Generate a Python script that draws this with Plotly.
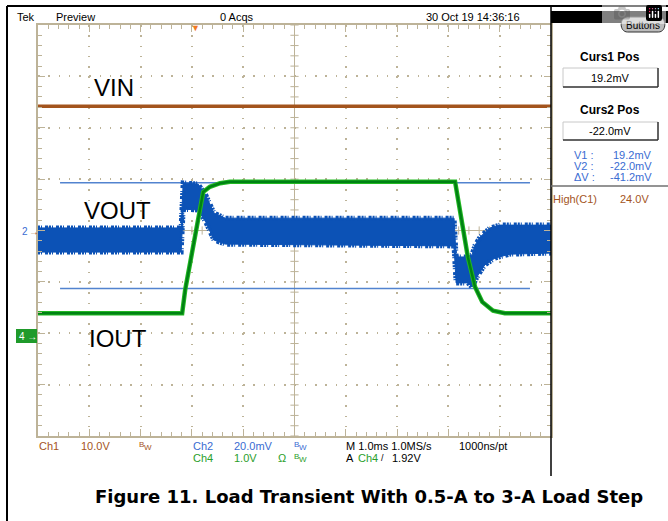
import plotly.graph_objects as go

# ---- scope settings ----
CH1_SCALE = 10.0    # V/div
CH1_POS = 0.02      # div
CH2_SCALE = 20.0    # mV/div
CH2_POS = -0.03     # div
CH4_SCALE = 1.0     # A/div (1.0V probe)
CH4_POS = -2.1      # div

# time in ms (M 1.0ms/div)
vin_t = [-5.0, 5.0]
vin_v = [24.0, 24.0]

# VOUT noise envelope, mV
vout_hi_t = [-5.0, -2.21, -2.17, -1.88, -1.73, -1.57, -1.35, 3.11, 3.15, 3.36, 3.46, 3.52, 3.62, 3.81, 4.01, 5.0]
vout_hi_mv = [1.6, 1.6, 19.1, 18.7, 14.4, 7.4, 5.4, 5.4, -9.7, -9.7, -8.9, -5.1, -1.9, 1.6, 2.7, 2.7]
vout_lo_t = [-5.0, -2.21, -2.17, -1.88, -1.73, -1.57, -1.35, 3.11, 3.15, 3.38, 3.46, 3.58, 3.71, 3.91, 4.20, 5.0]
vout_lo_mv = [-7.8, -7.8, 8.9, 8.6, 3.9, -3.1, -4.7, -5.4, -19.8, -19.8, -21.4, -16.7, -12.8, -10.1, -8.6, -8.2]

# IOUT, A
iout_t = [-5.0, -2.19, -2.13, -1.78, -1.65, -1.45, -1.26, 3.13, 3.38, 3.52, 3.66, 3.87, 4.10, 5.0]
iout_a = [0.49, 0.49, 0.95, 2.85, 2.95, 3.02, 3.05, 3.05, 1.58, 1.00, 0.71, 0.54, 0.49, 0.49]

# cursors
curs_t = [-4.57, 4.59]
curs1_mv = 19.2
curs2_mv = -22.0

TAN = "#bdb398"
BROWN = "#a3541d"
BLUE = "#0c52b6"
CURS = "#5283cf"
TXTBLUE = "#3a6cd2"
TXTGREEN = "#2a9e2a"
FONT = "Liberation Sans, Arial, sans-serif"
NARROW = "Liberation Sans Narrow, Arial Narrow, Liberation Sans, sans-serif"

L, R, T, B = 38, 551, 25, 436
W, H = 668, 521


def px(x, y):
    return (x - L) / (R - L), (B - y) / (B - T)


fig = go.Figure()

# cursor lines
for mv in (curs1_mv, curs2_mv):
    fig.add_trace(go.Scatter(x=curs_t, y=[CH2_POS + mv / CH2_SCALE] * 2, mode="lines",
                             line=dict(color=CURS, width=1.5), hoverinfo="skip"))

# VIN
fig.add_trace(go.Scatter(x=vin_t, y=[CH1_POS + v / CH1_SCALE for v in vin_v], mode="lines",
                         line=dict(color=BROWN, width=3.5)))

# VOUT band
hi = [CH2_POS + v / CH2_SCALE for v in vout_hi_mv]
lo = [CH2_POS + v / CH2_SCALE for v in vout_lo_mv]
fig.add_trace(go.Scatter(x=vout_hi_t + vout_lo_t[::-1], y=hi + lo[::-1], mode="lines",
                         fill="toself", fillcolor=BLUE, line=dict(color=BLUE, width=1)))
for xs, ys in ((vout_hi_t, hi), (vout_lo_t, lo)):
    fig.add_trace(go.Scatter(x=xs, y=ys, mode="lines",
                             line=dict(color=BLUE, width=5, dash="2px,1px,1px,3px,3px,1px")))

# IOUT
fig.add_trace(go.Scatter(x=iout_t, y=[CH4_POS + a / CH4_SCALE for a in iout_a], mode="lines",
                         line=dict(color="#22b922", width=4.5)))
fig.add_trace(go.Scatter(x=iout_t, y=[CH4_POS + a / CH4_SCALE for a in iout_a], mode="lines",
                         line=dict(color="#008214", width=2.5)))

# center line ticks of the graticule
for i in range(51):
    xv = -5 + i * 0.2
    fig.add_shape(type="line", x0=xv, x1=xv, y0=-0.08, y1=0.08, line=dict(color=TAN, width=1), layer="below")
for i in range(41):
    yv = -4 + i * 0.2
    fig.add_shape(type="line", x0=-0.08, x1=0.08, y0=yv, y1=yv, line=dict(color=TAN, width=1), layer="below")

axis_common = dict(showticklabels=False, showline=True, linecolor=TAN, linewidth=1.5, mirror="ticks",
                   ticks="inside", ticklen=7, tickcolor=TAN, tickwidth=1, showgrid=True, gridcolor=TAN,
                   gridwidth=1.5, zeroline=True, zerolinecolor=TAN, zerolinewidth=1, fixedrange=True,
                   minor=dict(dtick=0.2, ticks="inside", ticklen=4, tickcolor=TAN, showgrid=False))
fig.update_xaxes(range=[-5, 5], dtick=1, tick0=0, griddash="1.5px,8.78px", **axis_common)
fig.update_yaxes(range=[-4, 4], dtick=1, tick0=0, griddash="1.5px,8.76px", **axis_common)


def label(text, x, y, size=11, color="black", anchor="left", family=NARROW):
    xx, yy = px(x, y)
    fig.add_annotation(text=text, x=xx, y=yy, xref="paper", yref="paper", showarrow=False,
                       xanchor=anchor, yanchor="middle", font=dict(size=size, color=color, family=family),
                       borderpad=0)


def bw(x, y, color):
    # the little "Bw" bandwidth-limit sign
    label("B", x, y - 2, size=8, color=color)
    label("W", x + 5, y + 1, size=8, color=color)


def line(x0, y0, x1, y1, color="black", width=1.5):
    a, b = px(x0, y0)
    c, d = px(x1, y1)
    fig.add_shape(type="line", xref="paper", yref="paper", x0=a, y0=b, x1=c, y1=d,
                  line=dict(color=color, width=width))


def rect(x0, y0, x1, y1, fill, lw=0, lc=None):
    a, b = px(x0, y0)
    c, d = px(x1, y1)
    fig.add_shape(type="rect", xref="paper", yref="paper", x0=a, y0=b, x1=c, y1=d,
                  fillcolor=fill, line=dict(width=lw, color=lc or fill))


# outer frame
line(7, 6, 668, 6, width=2)
line(7, 6, 7, 521, width=2)
line(551, 6, 551, 476, width=1.5)

# trace labels
label("VIN", 93, 87, size=24, family=FONT)
label("VOUT", 83, 210, size=24, family=FONT)
label("IOUT", 88, 338, size=24, family=FONT)

# channel markers
label("2", 21, 232, size=10, color=TXTBLUE)
label("→", 28, 232, size=10, color=BROWN)
rect(16, 329, 37, 343, "#1f9a2a")
label("4 →", 18, 336, size=10, color="white")
label("▼", 195, 28, size=9, color="#f07a22", anchor="center")

# header
label("Tek", 16, 17)
label("Preview", 55, 17)
label("0 Acqs", 219, 17)
label("30 Oct 19 14:36:16", 425, 17)

# right panel
rect(551, 11, 668, 23, "black")
pa, pb = px(621, 17)
pc, pd = px(665, 32)
rx = (pc - pa) * 0.15
fig.add_shape(type="path", xref="paper", yref="paper",
              path=f"M {pa + rx},{pb} L {pc - rx},{pb} C {pc + rx * 0.3},{pb} {pc + rx * 0.3},{pd} {pc - rx},{pd} "
                   f"L {pa + rx},{pd} C {pa - rx * 0.3},{pd} {pa - rx * 0.3},{pb} {pa + rx},{pb} Z",
              fillcolor="#bcbcbc", line=dict(color="#303030", width=1))
label("Buttons", 643, 25, size=10, anchor="center")

label("<b>Curs1 Pos</b>", 610, 57, size=12, anchor="center", family=FONT)
label("<b>Curs2 Pos</b>", 610, 110, size=12, anchor="center", family=FONT)
for y0, y1, txt in ((68, 87, "19.2mV"), (122, 140, "-22.0mV")):
    line(563, y0, 658, y0, color="#c8c8c8", width=1)
    line(563, y0, 563, y1, color="#c8c8c8", width=1)
    line(563, y1, 658, y1, color="#303030", width=1.5)
    line(658, y0, 658, y1, color="#303030", width=1.5)
    label(txt, 610, (y0 + y1) / 2, size=11, anchor="center")

for yy, a, b in ((155, "V1 :", "19.2mV"), (166, "V2 :", "-22.0mV"), (177, "ΔV :", "-41.2mV")):
    label(a, 573, yy, color=TXTBLUE)
    label(b, 653, yy, color=TXTBLUE, anchor="right")
line(551, 186, 668, 186, color="#707070", width=1.5)
label("High(C1)", 552, 199, color=BROWN)
label("24.0V", 650, 199, color=BROWN, anchor="right")

# bottom readouts
label("Ch1", 38, 446, color=BROWN)
label("10.0V", 80, 446, color=BROWN)
bw(138, 446, BROWN)
label("Ch2", 192, 446, color=TXTBLUE)
label("20.0mV", 233, 446, color=TXTBLUE)
bw(293, 446, TXTBLUE)
label("M 1.0ms 1.0MS/s", 345, 446)
label("1000ns/pt", 458, 446)
label("Ch4", 192, 458, color=TXTGREEN)
label("1.0V", 233, 458, color=TXTGREEN)
label("Ω", 277, 458, color=TXTGREEN)
bw(293, 458, TXTGREEN)
label("A", 345, 458)
label("Ch4", 357, 458, color=TXTGREEN)
label("/", 380, 458, size=9)
label("1.92V", 391, 458)

# caption
label("<b>Figure 11. Load Transient With 0.5-A to 3-A Load Step</b>", 369, 497, size=18,
      anchor="center", family="DejaVu Sans, Liberation Sans, sans-serif")

fig.update_layout(width=W, height=H, margin=dict(l=L, r=W - R, t=T, b=H - B, pad=0),
                  paper_bgcolor="white", plot_bgcolor="white", showlegend=False)

fig.write_html("out.html", post_script="document.body.style.margin='0';")
